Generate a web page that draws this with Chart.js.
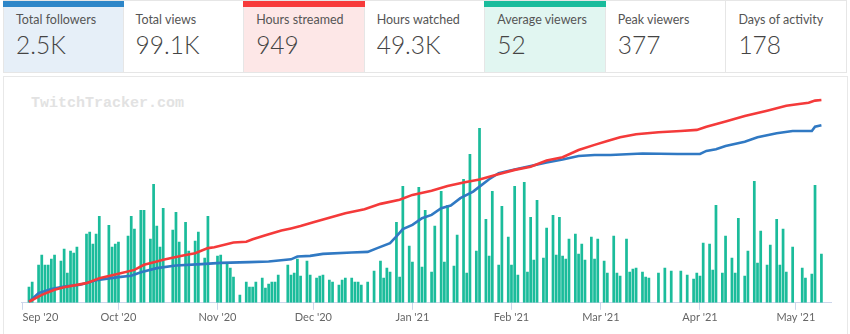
<!DOCTYPE html>
<html>
<head>
<meta charset="utf-8">
<script src="https://cdn.jsdelivr.net/npm/chart.js@4.4.0/dist/chart.umd.min.js"></script>
<style>
  html, body { margin: 0; padding: 0; background: #fff; }
  body { width: 850px; height: 334px; position: relative; overflow: hidden; font-family: Lato, 'Open Sans', sans-serif; }
  .stats { position: absolute; left: 3px; top: 0; width: 844px; height: 73px; display: flex; }
  .stat { position: relative; box-sizing: border-box; width: 120.57px; height: 73px; border: 1px solid #e6e6e6; border-left: none; background: #fff; }
  .stat:first-child { border-left: 1px solid #e6e6e6; }
  .stat .bar { position: absolute; left: -1px; right: -1px; top: 0; height: 6px; }
  .stat .lbl { position: absolute; left: 12px; top: 11px; font-size: 12.5px; color: #555; white-space: nowrap; }
  .stat .val { position: absolute; left: 12px; top: 29px; font-size: 24.5px; font-weight: 300; color: #444; white-space: nowrap; }
  .stat.blue { background: #e6eff8; }
  .stat.blue .bar { background: #2e86c8; }
  .stat.red { background: #fde7e7; }
  .stat.red .bar { background: #f73b3b; }
  .stat.green { background: #e1f6f1; }
  .stat.green .bar { background: #1abc9c; }
  .panel { position: absolute; left: 3px; top: 76px; width: 843px; height: 270px; border: 1px solid #e8e8e8; }
  .mark { position: absolute; left: 31px; top: 95px; font-family: 'Liberation Mono', monospace; font-weight: bold; font-size: 15px; color: #e2e2e2; }
  #chart { position: absolute; left: 0; top: 76px; }
</style>
</head>
<body>
<div class="stats">
  <div class="stat blue"><div class="bar"></div><div class="lbl">Total followers</div><div class="val">2.5K</div></div>
  <div class="stat"><div class="lbl">Total views</div><div class="val">99.1K</div></div>
  <div class="stat red"><div class="bar"></div><div class="lbl">Hours streamed</div><div class="val">949</div></div>
  <div class="stat"><div class="lbl">Hours watched</div><div class="val">49.3K</div></div>
  <div class="stat green"><div class="bar"></div><div class="lbl">Average viewers</div><div class="val">52</div></div>
  <div class="stat"><div class="lbl">Peak viewers</div><div class="val">377</div></div>
  <div class="stat"><div class="lbl">Days of activity</div><div class="val">178</div></div>
</div>
<div class="panel"></div>
<div class="mark">TwitchTracker.com</div>
<canvas id="chart" width="850" height="258"></canvas>
<script>
// day numbers count from 1 Sep 2020 (= 0)
const streamDays = [2, 3, 5, 6, 7, 8, 9, 10, 12, 13, 14, 15, 16, 17, 20, 21, 22, 23, 24, 27, 28, 29, 30,
  33, 34, 35, 37, 38, 40, 41, 42, 43, 44, 47, 48, 49, 51, 52, 54, 55, 57, 58, 61, 62, 64, 65, 66, 68,
  70, 71, 72, 73, 75, 76, 77, 78, 79, 80, 83, 84, 85, 86, 87, 89, 90, 92, 93, 94, 96, 97, 99, 100, 101,
  103, 104, 105, 106, 108, 110, 112, 113, 114, 115, 117, 118, 119, 121, 122, 124, 125, 126, 128, 129,
  131, 132, 133, 135, 136, 138, 139, 140, 142, 143, 145, 146, 147, 149, 150, 152, 153, 154, 155, 157,
  158, 159, 160, 161, 163, 164, 166, 167, 168, 169, 170, 171, 173, 174, 175, 176, 178, 179, 180, 182,
  183, 185, 186, 187, 189, 190, 191, 192, 194, 195, 196, 199, 201, 203, 206, 208, 210, 211, 212, 213,
  215, 216, 217, 219, 220, 222, 223, 224, 226, 227, 229, 230, 231, 233, 234, 236, 237, 238, 239, 241,
  244, 245, 247, 248, 250];
const avgViewers = [16, 21, 38, 48, 38, 38, 44, 48, 42, 54, 30, 52, 50, 56, 69, 71, 59, 69, 87, 78, 56, 59, 61,
  67, 87, 74, 93, 93, 64, 119, 77, 56, 95, 73, 91, 61, 81, 52, 62, 71, 45, 87, 47, 48, 39, 35, 26, 8,
  21, 16, 16, 21, 25, 15, 19, 21, 21, 28, 38, 28, 30, 44, 27, 42, 28, 25, 27, 28, 23, 21, 18, 23, 25,
  25, 21, 21, 18, 21, 32, 42, 25, 35, 31, 81, 26, 117, 57, 41, 116, 36, 93, 31, 77,
  112, 41, 98, 37, 68, 124, 30, 149, 52, 175, 84, 47, 112, 38, 97, 66, 38, 117, 28, 121,
  31, 86, 43, 103, 45, 75, 88, 48, 86, 47, 44, 64, 69, 49, 59, 43, 66, 44, 64, 42,
  30, 67, 30, 27, 64, 31, 34, 35, 31, 26, 25, 30, 35, 32, 32, 28, 24, 30, 27, 60,
  59, 33, 98, 30, 67, 45, 30, 85, 27, 52, 122, 40, 72, 38, 58, 84, 38, 74, 31, 56,
  35, 25, 29, 118, 49];

const hoursDays = [2, 6, 10, 13, 17, 20, 24, 30, 35, 38, 42, 44, 48, 51, 54, 58, 60, 66, 70, 72, 76, 81, 84, 87,
  91, 96, 101, 107, 112, 118, 122, 128, 133, 138, 143, 148, 154, 159, 164, 169, 174, 179, 183, 187,
  192, 199, 206, 211, 214, 220, 226, 233, 239, 243, 246, 248, 250];
const hoursStreamed = [5, 37, 61, 73, 84, 92, 115, 136, 154, 178, 193, 201, 214, 224, 232, 256, 260, 282, 286, 297, 316, 338, 348, 359,
  377, 398, 419, 438, 463, 482, 505, 524, 547, 563, 577, 598, 622, 637, 666, 681, 715, 739, 757, 775,
  789, 798, 804, 809, 824, 848, 874, 899, 922, 930, 936, 946, 949];

const followerDays = [2, 5, 9, 13, 18, 23, 30, 34, 37, 42, 48, 56, 62, 71, 77, 84, 86, 90, 94, 103, 108, 111, 115,
  117, 119, 122, 125, 128, 131, 134, 137, 141, 143, 146, 149, 154, 159, 164, 169, 174, 179, 184, 194,
  205, 212, 214, 217, 220, 226, 230, 236, 241, 247, 248, 250];
const followersGained = [10, 97, 137, 163, 180, 225, 257, 270, 305, 347, 373, 387, 400, 407, 413, 435, 463, 470, 490, 503, 510, 547, 597,
  665, 737, 780, 847, 880, 947, 973, 1047, 1113, 1163, 1237, 1297, 1335, 1370, 1405, 1435, 1470, 1480, 1480, 1495,
  1490, 1490, 1520, 1537, 1570, 1613, 1657, 1697, 1720, 1720, 1763, 1777];

const monthTicks = [0, 30, 61, 91, 122, 153, 181, 212, 242];
const monthLabels = ["Sep '20", "Oct '20", "Nov '20", "Dec '20", "Jan '21", "Feb '21", "Mar '21", "Apr '21", "May '21"];
const lastDay = 253;

const pairs = (xs, ys) => xs.map((x, i) => ({ x: x, y: ys[i] }));

new Chart(document.getElementById('chart'), {
  type: 'bar',
  data: {
    datasets: [
      {
        type: 'line',
        label: 'Hours streamed',
        data: pairs(hoursDays, hoursStreamed),
        yAxisID: 'yHours',
        borderColor: '#f43a3a',
        borderWidth: 2.6,
        pointRadius: 0,
        order: 1
      },
      {
        type: 'line',
        label: 'Followers',
        data: pairs(followerDays, followersGained),
        yAxisID: 'yFollowers',
        borderColor: '#3079c3',
        borderWidth: 2.6,
        pointRadius: 0,
        order: 2
      },
      {
        type: 'bar',
        label: 'Average viewers',
        data: pairs(streamDays, avgViewers),
        yAxisID: 'yViewers',
        backgroundColor: '#1bbc9b',
        barPercentage: 0.85,
        categoryPercentage: 1,
        order: 3
      }
    ]
  },
  options: {
    responsive: false,
    animation: false,
    layout: { padding: { left: 21, right: 19, top: 19, bottom: 9 } },
    plugins: { legend: { display: false }, tooltip: { enabled: false } },
    scales: {
      x: {
        type: 'linear',
        min: -0.5,
        max: lastDay,
        offset: false,
        afterBuildTicks: (scale) => {
          scale.ticks = monthTicks.concat([lastDay]).map(v => ({ value: v }));
        },
        ticks: {
          align: 'inner',
          autoSkip: false,
          maxRotation: 0,
          padding: 1,
          color: '#666',
          font: { family: 'Lato', size: 11 },
          callback: (v) => {
            const i = monthTicks.indexOf(v);
            return i >= 0 ? monthLabels[i] : '';
          }
        },
        grid: {
          offset: false,
          drawOnChartArea: false,
          drawTicks: true,
          tickLength: 7,
          tickColor: (ctx) => (ctx.tick && monthTicks.includes(ctx.tick.value)) ? '#ccd6eb' : 'rgba(0,0,0,0)'
        },
        border: { color: '#ccd6eb', width: 1 }
      },
      yViewers: { display: false, min: 0, max: 208 },
      yHours: { display: false, min: 0, max: 972.4 },
      yFollowers: { display: false, min: 0, max: 2080 }
    }
  }
});
</script>
</body>
</html>
